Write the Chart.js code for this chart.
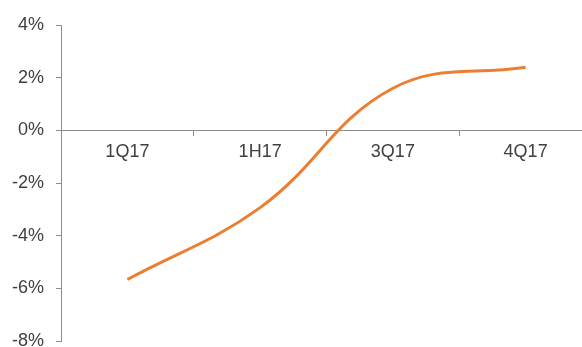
<!DOCTYPE html>
<html>
<head>
<meta charset="utf-8">
<script src="https://cdn.jsdelivr.net/npm/chart.js@4/dist/chart.umd.min.js"></script>
<style>
html,body{margin:0;padding:0;background:#fff;overflow:hidden;}
#wrap{position:absolute;left:0;top:0;width:592px;height:364px;}
</style>
</head>
<body>
<div id="wrap"><canvas id="c"></canvas></div>
<script>
const categories = ['1Q17', '1H17', '3Q17', '4Q17'];
const values = [-5.66, -2.93, 1.6, 2.4];
const yTicks = [-8, -6, -4, -2, 0, 2, 4];

const axisColor = '#8c8c8c';
const textColor = '#404040';
const xFont = { family: 'Liberation Sans, Arial, sans-serif', size: 18 };
const yFont = { family: 'Liberation Sans Narrow, Liberation Sans, Arial, sans-serif', size: 18 };

new Chart(document.getElementById('c'), {
  type: 'line',
  data: {
    labels: categories,
    datasets: [{
      data: values,
      borderColor: '#ED7D31',
      borderWidth: 3,
      pointRadius: 0,
      tension: 0.4,
      fill: false
    }]
  },
  options: {
    responsive: true,
    maintainAspectRatio: false,
    animation: false,
    layout: { padding: { top: 25, right: 0, bottom: 0, left: 0 } },
    plugins: { legend: { display: false }, tooltip: { enabled: false } },
    scales: {
      x: {
        type: 'category',
        position: { y: 0 },
        offset: true,
        grid: { display: true, offset: true, drawOnChartArea: false, drawTicks: true, tickLength: 5, color: axisColor },
        border: { display: true, color: axisColor, width: 1 },
        ticks: { color: textColor, font: xFont, padding: 6, maxRotation: 0 }
      },
      y: {
        min: -8,
        max: 4,
        afterBuildTicks: (scale) => { scale.ticks = yTicks.map(v => ({ value: v })); },
        grid: { display: true, drawOnChartArea: false, drawTicks: true, tickLength: 5, color: axisColor },
        border: { display: true, color: axisColor, width: 1 },
        ticks: { color: textColor, font: yFont, padding: 12, callback: (v) => v + '%' }
      }
    }
  }
});
</script>
</body>
</html>
